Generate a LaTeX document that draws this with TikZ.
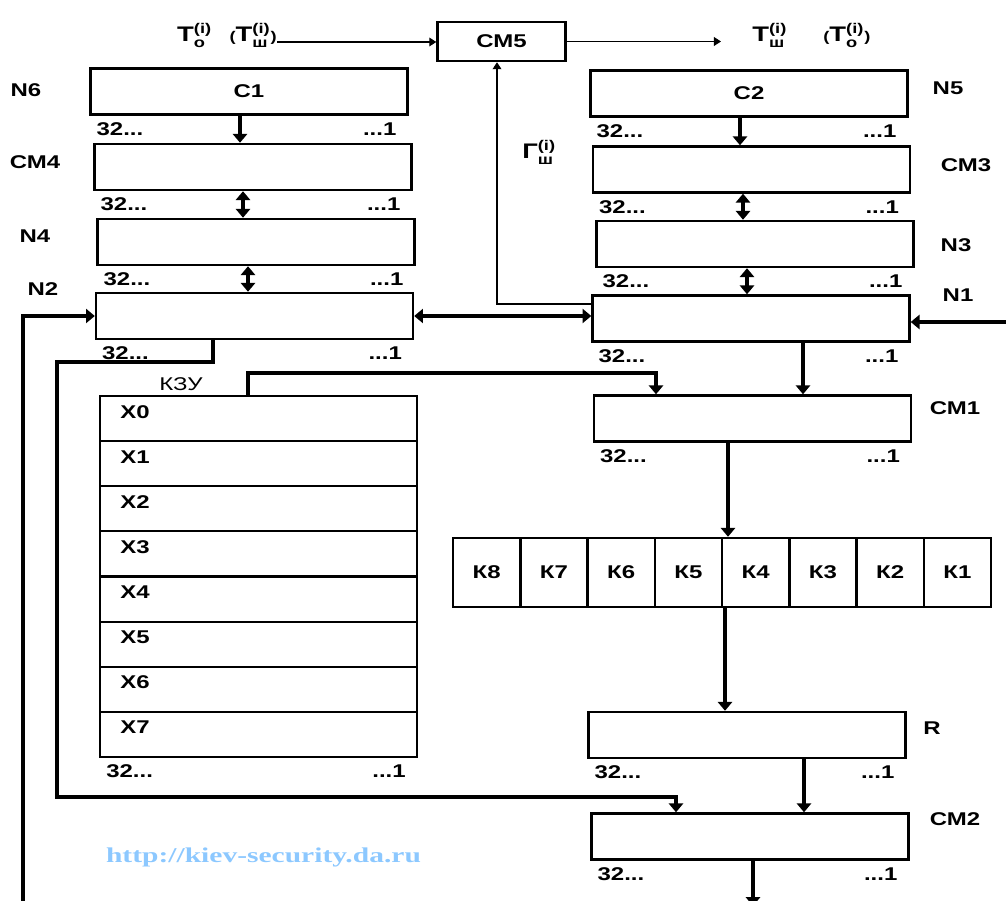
\documentclass[tikz,border=0pt]{standalone}
\usepackage{amsmath}
\usepackage{fontspec}
\setmainfont{Liberation Sans}[FakeStretch=1.3]
\newfontfamily\wmfont{Liberation Serif}[FakeStretch=1.4]
\usepackage{tikz}
\usetikzlibrary{arrows.meta}
\definecolor{wmblue}{HTML}{8CC8FF}

\begin{document}
\begin{tikzpicture}[
    x=0.02cm, y=-0.02cm,
    >={Triangle[length=5pt, width=8pt]},
    every node/.style={font=\fontsize{10.5}{12}\selectfont\bfseries},
    reg/.style={draw, line width=1.4pt, minimum width=6.34cm,
                minimum height=0.92cm, inner sep=0pt},
    kbox/.style={draw, line width=1.4pt, minimum width=1.345cm,
                 minimum height=1.38cm, inner sep=0pt},
    row/.style={draw, line width=1.2pt, minimum width=6.34cm,
                minimum height=0.9025cm, inner sep=0pt},
    idx/.style={inner sep=0pt, font=\fontsize{12}{14}\selectfont\bfseries},
    bus/.style={line width=2.8pt},
    wire/.style={line width=0.6pt, -{Triangle[length=4pt, width=5pt]}},
    bitl/.style={anchor=north west, inner sep=0pt, xshift=0.14cm, yshift=-0.13cm},
    bitr/.style={anchor=north east, inner sep=0pt, xshift=-0.24cm, yshift=-0.13cm},
    xlab/.style={anchor=north west, inner sep=0pt, xshift=0.42cm, yshift=-0.2cm},
  ]
  \useasboundingbox (0,0) rectangle (1006,901);

  % CM5 and gamma
  \node[draw, line width=1.4pt, minimum width=2.56cm, minimum height=0.78cm,
        inner sep=0pt] (cm5) at (501.5,41.5) {СМ5};
  \node[idx, anchor=base east] (tin) at (277,42)
    {$\text{Т}_{\text{о}}^{\text{(i)}}$\hspace{10pt}{\footnotesize(}$\text{Т}_{\text{ш}}^{\text{(i)}}${\footnotesize)}};
  \node[idx, anchor=base west] (tout1) at (752,42) {$\text{Т}_{\text{ш}}^{\text{(i)}}$};
  \node[idx, anchor=base west] (tout2) at (823,42)
    {{\footnotesize(}$\text{Т}_{\text{о}}^{\text{(i)}}${\footnotesize)}};
  \node[idx, anchor=base west] (gam) at (522,159) {$\text{Г}_{\text{ш}}^{\text{(i)}}$};
  \coordinate (tend) at (721,41.5);
  \draw[wire] (tin.base east) -- (tin.base east -| cm5.west);
  \draw[wire] (cm5.east) -- (tend);

  % left column
  \node[reg] (c1) at (249,91.5) {С1};
  \node[reg] (cm4) at (253,167) {};
  \node[reg] (n4) at (256,242) {};
  \node[reg] (n2) at (254.5,316) {};
  \node (lbn6) at (26,90) {N6};
  \node (lbcm4) at (35,162) {СМ4};
  \node (lbn4) at (35,236) {N4};
  \node (lbn2) at (43,289) {N2};

  % right column
  \node[reg] (c2) at (749,93.5) {С2};
  \node[reg] (cm3) at (751.5,169.5) {};
  \node[reg] (n3) at (755,244) {};
  \node[reg] (n1) at (751,318.5) {};
  \node[reg] (cm1) at (752.5,418.5) {};
  \node (lbn5) at (948,88) {N5};
  \node (lbcm3) at (966,165) {СМ3};
  \node (lbn3) at (956,245) {N3};
  \node (lbn1) at (958,295) {N1};
  \node (lbcm1) at (955,408) {СМ1};

  % K blocks
  \node[kbox] (k8) at (486.6,572.5) {К8};
  \node[kbox] (k7) at (553.9,572.5) {К7};
  \node[kbox] (k6) at (621.1,572.5) {К6};
  \node[kbox] (k5) at (688.4,572.5) {К5};
  \node[kbox] (k4) at (755.6,572.5) {К4};
  \node[kbox] (k3) at (822.9,572.5) {К3};
  \node[kbox] (k2) at (890.1,572.5) {К2};
  \node[kbox] (k1) at (957.4,572.5) {К1};

  % R and CM2
  \node[reg] (r) at (747,735) {};
  \node[reg] (cm2) at (750,836.5) {};
  \node (lbr) at (932,728) {R};
  \node (lbcm2) at (955,819) {СМ2};

  % key memory
  \node[row] (x0) at (258.5,418.6) {};
  \node[row] (x1) at (258.5,463.7) {};
  \node[row] (x2) at (258.5,508.8) {};
  \node[row] (x3) at (258.5,553.9) {};
  \node[row] (x4) at (258.5,599.1) {};
  \node[row] (x5) at (258.5,644.2) {};
  \node[row] (x6) at (258.5,689.3) {};
  \node[row] (x7) at (258.5,734.4) {};
  \node[xlab] (x0t) at (x0.north west) {Х0};
  \node[xlab] (x1t) at (x1.north west) {Х1};
  \node[xlab] (x2t) at (x2.north west) {Х2};
  \node[xlab] (x3t) at (x3.north west) {Х3};
  \node[xlab] (x4t) at (x4.north west) {Х4};
  \node[xlab] (x5t) at (x5.north west) {Х5};
  \node[xlab] (x6t) at (x6.north west) {Х6};
  \node[xlab] (x7t) at (x7.north west) {Х7};
  \node[font=\fontsize{10.5}{12}\selectfont] (lbkzu) at (181,384) {КЗУ};

  % bit numbering
  \node[bitl] (c1l) at (c1.south west) {32...};
  \node[bitr] (c1r) at (c1.south east) {...1};
  \node[bitl] (cm4l) at (cm4.south west) {32...};
  \node[bitr] (cm4r) at (cm4.south east) {...1};
  \node[bitl] (n4l) at (n4.south west) {32...};
  \node[bitr] (n4r) at (n4.south east) {...1};
  \node[bitl] (n2l) at (n2.south west) {32...};
  \node[bitr] (n2r) at (n2.south east) {...1};
  \node[bitl] (c2l) at (c2.south west) {32...};
  \node[bitr] (c2r) at (c2.south east) {...1};
  \node[bitl] (cm3l) at (cm3.south west) {32...};
  \node[bitr] (cm3r) at (cm3.south east) {...1};
  \node[bitl] (n3l) at (n3.south west) {32...};
  \node[bitr] (n3r) at (n3.south east) {...1};
  \node[bitl] (n1l) at (n1.south west) {32...};
  \node[bitr] (n1r) at (n1.south east) {...1};
  \node[bitl] (cm1l) at (cm1.south west) {32...};
  \node[bitr] (cm1r) at (cm1.south east) {...1};
  \node[bitl] (rl) at (r.south west) {32...};
  \node[bitr] (rr) at (r.south east) {...1};
  \node[bitl] (cm2l) at (cm2.south west) {32...};
  \node[bitr] (cm2r) at (cm2.south east) {...1};
  \node[bitl] (x7l) at (x7.south west) {32...};
  \node[bitr] (x7r) at (x7.south east) {...1};

  % buses
  \coordinate (inl) at (23,910);
  \coordinate (inr) at (1012,322);
  \coordinate (out) at (753,906);
  \draw[bus,->] (240,0 |- c1.south) -- (240,0 |- cm4.north);
  \draw[bus,<->] (243,0 |- cm4.south) -- (243,0 |- n4.north);
  \draw[bus,<->] (248,0 |- n4.south) -- (248,0 |- n2.north);
  \draw[bus,->] (740,0 |- c2.south) -- (740,0 |- cm3.north);
  \draw[bus,<->] (743,0 |- cm3.south) -- (743,0 |- n3.north);
  \draw[bus,<->] (747,0 |- n3.south) -- (747,0 |- n1.north);
  \draw[bus,<->] (n2.east) -- (n2.east -| n1.west);
  \draw[bus,->] (inl) |- (n2.west);
  \draw[bus,->] (inr) -- (inr -| n1.east);
  \draw[bus,->] (803,0 |- n1.south) -- (803,0 |- cm1.north);
  \draw[bus,->] (248,0 |- x0.north) -- (248,373) -| (656,0 |- cm1.north);
  \draw[bus,->] (728,0 |- cm1.south) -- (728,0 |- k4.north);
  \draw[bus,->] (725,0 |- k4.south) -- (725,0 |- r.north);
  \draw[bus,->] (804,0 |- r.south) -- (804,0 |- cm2.north);
  \draw[bus,->] (213,0 |- n2.south) -- (213,362) -| (57,797) -| (676,0 |- cm2.north);
  \draw[bus,->] (753,0 |- cm2.south) -- (out);
  \draw[wire, line width=0.7pt] (n1.west |- 0,304) -| (497,0 |- cm5.south);

  % site mark
  \node[font=\wmfont\fontsize{12}{14}\selectfont\bfseries, text=wmblue]
    (wm) at (263.5,857) {http://kiev-security.da.ru};
\end{tikzpicture}
\end{document}
